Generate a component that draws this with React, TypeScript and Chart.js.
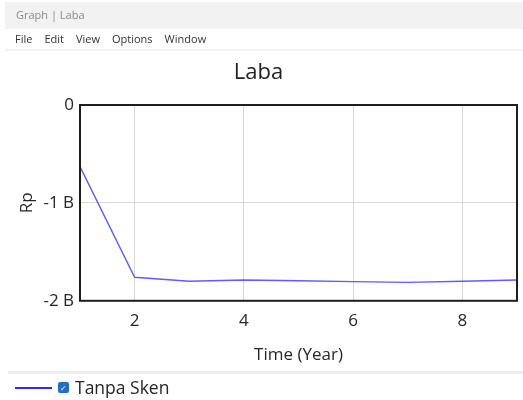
import React, { useEffect, useRef } from "react";
import { Chart, registerables } from "chart.js";

Chart.register(...registerables);

const years = [1, 2, 3, 4, 5, 6, 7, 8, 9];
const tanpaSken = [-0.63e9, -1.76e9, -1.8e9, -1.787e9, -1.795e9, -1.804e9, -1.812e9, -1.8e9, -1.787e9];
const xTickValues = [2, 4, 6, 8];
const yTickValues = [0, -1e9, -2e9];
const yTickLabels = ["0", "-1 B", "-2 B"];
const menuItems = ["File", "Edit", "View", "Options", "Window"];

const FONT = "'Open Sans', 'Noto Sans', sans-serif";

export default function App() {
  const ref = useRef<HTMLCanvasElement | null>(null);

  useEffect(() => {
    document.body.style.margin = "0";
    const ctx = ref.current!;
    const frame = {
      id: "frame",
      afterDraw(chart: any) {
        const { ctx, chartArea: a } = chart;
        ctx.save();
        ctx.strokeStyle = "#1e1e1e";
        ctx.lineWidth = 2;
        ctx.strokeRect(a.left, a.top, a.right - a.left, a.bottom - a.top);
        ctx.restore();
      },
    };
    const chart = new Chart(ctx, {
      type: "line",
      data: {
        datasets: [
          {
            label: "Tanpa Sken",
            data: years.map((x, i) => ({ x, y: tanpaSken[i] })),
            borderColor: "#5c5cff",
            borderWidth: 1.4,
            pointRadius: 0,
            tension: 0,
          },
        ],
      },
      options: {
        animation: false,
        responsive: false,
        events: [],
        layout: { padding: { top: 56, left: 0, right: 6, bottom: 31 } },
        plugins: {
          legend: { display: false },
          tooltip: { enabled: false },
          title: {
            display: true,
            text: "Laba",
            color: "#222",
            font: { family: FONT, size: 22, weight: "normal" },
            padding: { top: 4, bottom: 18.6 },
          },
        },
        scales: {
          x: {
            type: "linear",
            min: 1,
            max: 9,
            afterBuildTicks: (s: any) => {
              s.ticks = xTickValues.map((v) => ({ value: v }));
            },
            ticks: {
              color: "#262626",
              padding: 10,
              font: { family: FONT, size: 17 },
              maxRotation: 0,
            },
            grid: { color: "#d8d8d8", drawTicks: false },
            border: { display: false },
            title: {
              display: true,
              text: "Time (Year)",
              color: "#262626",
              font: { family: FONT, size: 17 },
              padding: { top: 3.4, bottom: 4 },
            },
          },
          y: {
            type: "linear",
            min: -2e9,
            max: 0,
            afterBuildTicks: (s: any) => {
              s.ticks = yTickValues.map((v) => ({ value: v }));
            },
            afterFit: (s: any) => {
              s.width = 80;
            },
            ticks: {
              color: "#262626",
              padding: 6,
              font: { family: FONT, size: 17 },
              callback: (v: any) => {
                const i = yTickValues.indexOf(Number(v));
                return i >= 0 ? yTickLabels[i] : "";
              },
            },
            grid: { color: "#d8d8d8", drawTicks: false },
            border: { display: false },
            title: {
              display: true,
              text: "Rp",
              color: "#262626",
              font: { family: FONT, size: 17 },
              padding: { top: 17, bottom: 0 },
            },
          },
        },
      },
      plugins: [frame],
    } as any);
    return () => chart.destroy();
  }, []);

  return (
    <div style={{ position: "fixed", left: 0, top: 0, width: 523, height: 400, background: "#fff", overflow: "hidden", fontFamily: FONT }}>
      <canvas ref={ref} width={523} height={400} style={{ position: "absolute", left: 0, top: 0 }} />
      <div style={{ position: "absolute", left: 5, top: 2, width: 518, height: 27, background: "#f2f2f2" }} />
      <div style={{ position: "absolute", left: 16, top: 7, fontSize: 11, color: "#8a8a8a" }}>Graph | Laba</div>
      <div style={{ position: "absolute", left: 15, top: 31, fontSize: 11, color: "#333", display: "flex", gap: 12 }}>
        {menuItems.map((m) => (
          <span key={m}>{m}</span>
        ))}
      </div>
      <div style={{ position: "absolute", left: 5, top: 49, width: 518, height: 2, background: "#f2f2f2" }} />
      <div style={{ position: "absolute", left: 8, top: 371, width: 515, height: 3, background: "#eeeeee" }} />
      <div style={{ position: "absolute", left: 15, top: 387, width: 37, height: 2, background: "#2a2aff" }} />
      <div style={{ position: "absolute", left: 58, top: 382, width: 11, height: 11, borderRadius: 2, background: "#1e6fc6", color: "#fff", fontSize: 8, lineHeight: "11px", textAlign: "center" }}>✓</div>
      <div style={{ position: "absolute", left: 75, top: 375, fontSize: 17.5, color: "#262626" }}>Tanpa Sken</div>
    </div>
  );
}
